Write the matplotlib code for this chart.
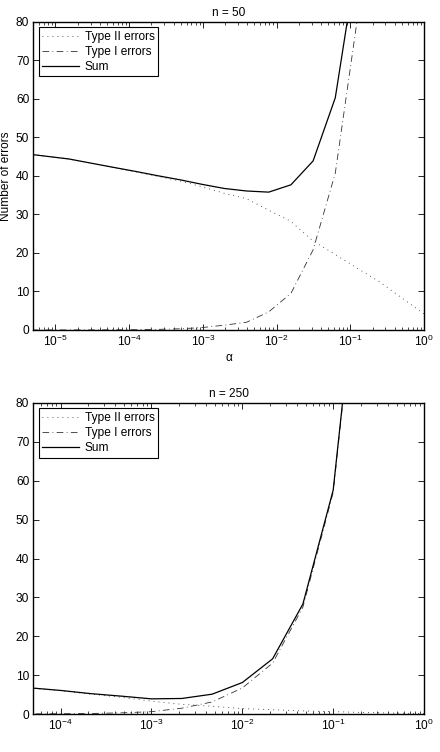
import matplotlib
matplotlib.use("Agg")
import matplotlib.pyplot as plt
from matplotlib.ticker import LogLocator

# ---- data ----
# n = 50 : alpha = 2^-k, k = 0..18
alpha_50 = [2.0 ** -k for k in range(19)]
type2_50 = [4.2, 8.3, 12.5, 16.0, 19.6, 23.1, 28.2, 31.1, 34.1, 35.5,
            37.2, 38.7, 39.9, 41.1, 42.2, 43.3, 44.4, 45.1, 45.8]
type1_50 = [640.0, 320.0, 160.0, 81.0, 40.7, 20.8, 9.5, 4.7, 2.0, 1.25,
            0.62, 0.31, 0.16, 0.08, 0.04, 0.02, 0.01, 0.005, 0.0024]

# n = 250 : alpha = 10^(-k/3), k = 0..13
alpha_250 = [10.0 ** (-k / 3) for k in range(14)]
type2_250 = [0.1, 0.25, 0.4, 0.6, 0.8, 1.1, 1.4, 2.0, 2.5, 3.3,
             4.3, 5.1, 6.0, 6.7]
type1_250 = [620.0, 290.0, 130.0, 57.0, 27.5, 13.1, 6.7, 3.1, 1.5, 0.6,
             0.3, 0.14, 0.065, 0.03]

titles = ["n = 50", "n = 250"]
xmins = [5e-6, 5e-5]
yticks = list(range(0, 81, 10))

FS = 8.6
plt.rcParams["font.family"] = ["Liberation Sans", "DejaVu Sans"]
plt.rcParams["font.size"] = FS
plt.rcParams["mathtext.default"] = "regular"

fig = plt.figure(figsize=(4.4, 7.52), dpi=100)
ax1 = fig.add_axes([0.0757, 0.5612, 0.888, 0.4096])
ax2 = fig.add_axes([0.0757, 0.0505, 0.888, 0.4136])

series = [(alpha_50, type2_50, type1_50), (alpha_250, type2_250, type1_250)]
for ax, (a, t2, t1), title, xmin in zip([ax1, ax2], series, titles, xmins):
    total = [p + q for p, q in zip(t2, t1)]
    ax.plot(a, t2, color="#222222", lw=0.6, dashes=(1, 5), label="Type II errors")
    ax.plot(a, t1, color="#333333", lw=0.6, dashes=(8, 4, 1, 4), label="Type I errors")
    ax.plot(a, total, "-", color="black", lw=0.9, label="Sum")
    ax.set_xscale("log")
    ax.set_xlim(xmin, 1)
    ax.set_ylim(0, 80)
    ax.set_yticks(yticks)
    ax.xaxis.set_major_locator(LogLocator(base=10, numticks=10))
    ax.xaxis.set_minor_locator(LogLocator(base=10, subs=range(2, 10), numticks=20))
    ax.tick_params(which="both", direction="in", top=True, right=True,
                   labelsize=FS, colors="black", pad=3)
    ax.tick_params(which="major", length=4, width=0.6)
    ax.tick_params(which="minor", length=2, width=0.5)
    for sp in ax.spines.values():
        sp.set_linewidth(1.0)
    ax.set_title(title, fontsize=FS, pad=4)
    leg = ax.legend(loc="upper left", fontsize=FS, handlelength=3.1,
                    fancybox=False, framealpha=1, edgecolor="black",
                    borderaxespad=0.45, labelspacing=0.25, borderpad=0.3,
                    handletextpad=0.45)
    leg.get_frame().set_linewidth(0.8)

ax1.set_ylabel("Number of errors", fontsize=FS, labelpad=3)
ax1.set_xlabel("α", fontsize=FS, labelpad=2)

fig.savefig("out.png", dpi=100)
